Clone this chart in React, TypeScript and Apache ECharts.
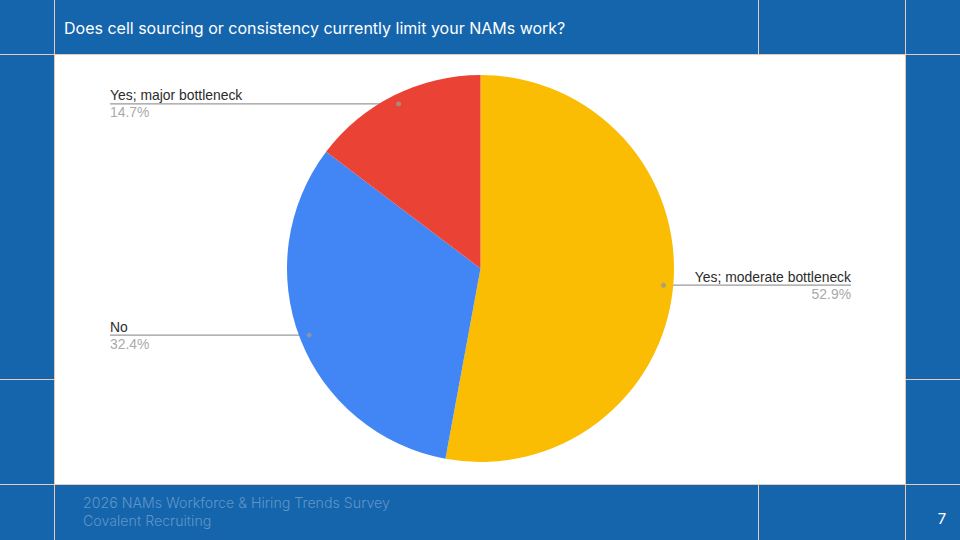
import React, { useEffect, useRef } from "react";
import * as echarts from "echarts";

const categories = ["Yes; moderate bottleneck", "No", "Yes; major bottleneck"];
const values = [52.9, 32.4, 14.7];
const colors = ["#FBBC04", "#4285F4", "#EA4335"];
const titleText = "Does cell sourcing or consistency currently limit your NAMs work?";
const footerLines = ["2026 NAMs Workforce & Hiring Trends Survey", "Covalent Recruiting"];
const pageNumber = "7";

const W = 960;
const H = 540;
const CX = 480.5;
const CY = 268.5;
const R = 193.5;
const DOT_R = 0.95;
const EDGE = 110;
const BLUE = "#1565AD";
const GRID = "#EBC8B8";

const total = values.reduce((a, b) => a + b, 0);
const cum: number[] = [];
values.reduce((acc, v, i) => {
  cum[i] = acc;
  return acc + v;
}, 0);
const mids = values.map((v, i) => cum[i] + v / 2);

export default function App() {
  const ref = useRef<HTMLDivElement>(null);
  useEffect(() => {
    if (!ref.current) return;
    const chart = echarts.init(ref.current, null, { renderer: "svg" });
    const vline = (x: number, y1: number, y2: number) => ({
      type: "line",
      silent: true,
      shape: { x1: x, y1, x2: x, y2 },
      style: { stroke: GRID, lineWidth: 1 },
    });
    const hline = (y: number, x1: number, x2: number) => ({
      type: "line",
      silent: true,
      shape: { x1, y1: y, x2, y2: y },
      style: { stroke: GRID, lineWidth: 1 },
    });
    chart.setOption({
      animation: false,
      backgroundColor: BLUE,
      graphic: [
        { type: "rect", z: -10, silent: true, shape: { x: 55, y: 55, width: 850, height: 429 }, style: { fill: "#ffffff" } },
        vline(54.5, 0, H),
        vline(905.5, 0, H),
        vline(758.5, 0, 54),
        vline(758.5, 484, H),
        hline(54.5, 0, W),
        hline(484.5, 0, W),
        hline(379.5, 0, 54),
        hline(379.5, 906, W),
        {
          type: "text",
          x: 64,
          y: 27.5,
          style: { text: titleText, fill: "#ffffff", font: "16px Inter", textVerticalAlign: "middle" },
        },
        {
          type: "text",
          x: 83,
          y: 502,
          style: { text: footerLines[0], fill: "rgba(255,255,255,0.32)", font: "300 14.2px Inter", textVerticalAlign: "middle" },
        },
        {
          type: "text",
          x: 83,
          y: 520,
          style: { text: footerLines[1], fill: "rgba(255,255,255,0.32)", font: "300 14.2px Inter", textVerticalAlign: "middle" },
        },
        {
          type: "text",
          x: 942,
          y: 518,
          style: { text: pageNumber, fill: "#ffffff", font: "15px Inter", textAlign: "center", textVerticalAlign: "middle" },
        },
      ],
      polar: { center: [CX, CY], radius: R },
      angleAxis: {
        type: "value",
        min: 0,
        max: total,
        startAngle: 90,
        clockwise: true,
        show: false,
      },
      radiusAxis: { type: "value", min: 0, max: 1, show: false },
      series: [
        {
          type: "pie",
          center: [CX, CY],
          radius: [0, R],
          startAngle: 90,
          clockwise: true,
          percentPrecision: 1,
          z: 1,
          itemStyle: { borderWidth: 0 },
          data: categories.map((c, i) => ({ name: c, value: values[i], itemStyle: { color: colors[i] } })),
          label: {
            show: true,
            position: "outside",
            formatter: "{n|{b}}\n{p|{d}%}",
            rich: {
              n: { fontFamily: "Liberation Sans", fontSize: 13.9, color: "#2b2b2b", lineHeight: 17 },
              p: { fontFamily: "Liberation Sans", fontSize: 13.9, color: "#AAAAAA", lineHeight: 17 },
            },
          },
          labelLine: { show: true, lineStyle: { color: "#9a9a9a", width: 1.2 } },
          labelLayout: (params: any) => {
            const i = params.dataIndex;
            const a = (mids[i] / total) * Math.PI * 2;
            const dx = CX + DOT_R * R * Math.sin(a);
            const dy = CY - DOT_R * R * Math.cos(a);
            const right = Math.sin(a) > 0;
            const x = right ? W - EDGE + 1 : EDGE;
            return {
              x,
              y: dy,
              align: right ? "right" : "left",
              verticalAlign: "middle",
              labelLinePoints: [
                [dx, dy],
                [(dx + x) / 2, dy],
                [x, dy],
              ],
            };
          },
        },
        {
          type: "scatter",
          coordinateSystem: "polar",
          silent: true,
          z: 5,
          symbol: "circle",
          symbolSize: 5,
          itemStyle: { color: "#999999" },
          data: mids.map((m) => [DOT_R, m]),
        },
      ],
    });
    return () => chart.dispose();
  }, []);
  return <div ref={ref} style={{ position: "fixed", left: 0, top: 0, width: W, height: H }} />;
}
